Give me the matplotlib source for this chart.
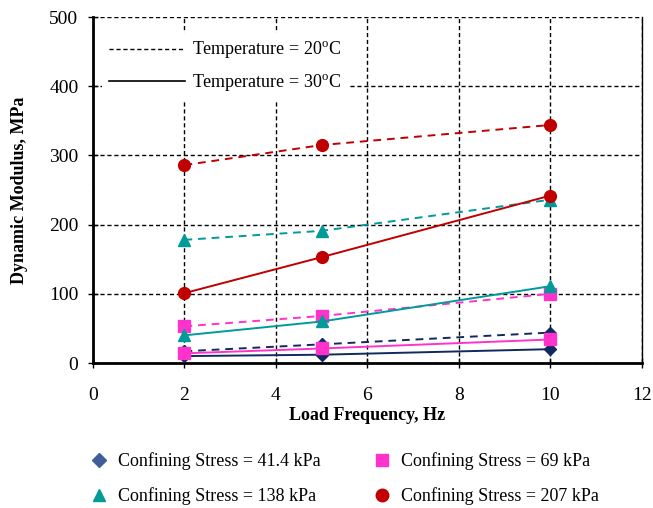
import matplotlib.pyplot as plt
from matplotlib.lines import Line2D

plt.rcParams["font.family"] = ["Liberation Serif", "DejaVu Serif"]
plt.rcParams["mathtext.fontset"] = "custom"
plt.rcParams["mathtext.rm"] = "Liberation Serif"

# load frequency (Hz)
freq = [2, 5, 10]

# dynamic modulus (MPa), 20 C (dashed) and 30 C (solid)
mod_41_20 = [17, 27, 44]
mod_41_30 = [10, 12, 20]
mod_69_20 = [53, 68, 100]
mod_69_30 = [14, 21, 34]
mod_138_20 = [178, 191, 236]
mod_138_30 = [40, 60, 111]
mod_207_20 = [286, 315, 344]
mod_207_30 = [101, 153, 242]

stress_labels = ["Confining Stress = 41.4 kPa", "Confining Stress = 69 kPa",
                 "Confining Stress = 138 kPa", "Confining Stress = 207 kPa"]

NAVY = "#10295e"
PINK = "#ff33cc"
TEAL = "#009a9a"
RED = "#c00000"

fig = plt.figure(figsize=(6.53, 5.08), dpi=100)
ax = fig.add_axes([0.1424, 0.2854, 0.8406, 0.6811])

series = [
    (mod_41_20, mod_41_30, NAVY, "D", 6.5),
    (mod_69_20, mod_69_30, PINK, "s", 9),
    (mod_138_20, mod_138_30, TEAL, "^", 8.5),
    (mod_207_20, mod_207_30, RED, "o", 8.5),
]
for m20, m30, c, mk, ms in series:
    ax.plot(freq, m20, color=c, lw=1.4, ls=(0, (4, 3)), marker=mk, ms=ms,
            mec=c, zorder=3)
    ax.plot(freq, m30, color=c, lw=1.4, ls="-", marker=mk, ms=ms,
            mec=c, zorder=3)

ax.set_xlim(0, 12)
ax.set_ylim(0, 500)
ax.set_xticks(range(0, 13, 2))
ax.set_yticks(range(0, 501, 100))
ax.grid(True, color="black", ls=(0, (3, 2)), lw=1.0)
ax.set_axisbelow(True)
ax.spines["top"].set_visible(False)
ax.spines["left"].set_linewidth(2.0)
ax.spines["bottom"].set_linewidth(2.0)
ax.spines["right"].set_linewidth(1.0)
ax.tick_params(direction="inout", length=7, width=1, labelsize=14, pad=7)
ax.tick_params(axis="x", pad=14)

ax.set_xlabel("Load Frequency, Hz", fontsize=13, fontweight="bold", labelpad=2)
ax.set_ylabel("Dynamic Modulus, MPa", fontsize=13, fontweight="bold", labelpad=15)

temp_handles = [
    Line2D([], [], color="black", lw=1.0, ls=(0, (3, 2))),
    Line2D([], [], color="black", lw=1.2, ls="-"),
]
ax.legend(temp_handles,
          ["Temperature = 20$^{\\mathrm{o}}$C",
           "Temperature = 30$^{\\mathrm{o}}$C"],
          loc="upper left", bbox_to_anchor=(0.0, 0.98),
          frameon=True, fancybox=False, edgecolor="none",
          facecolor="white", framealpha=1.0,
          fontsize=13, handlelength=4.2, handletextpad=0.4,
          labelspacing=0.6)

# column-wise fill: 41.4 & 138 left, 69 & 207 right
order = [0, 2, 1, 3]
marker_handles = [
    Line2D([], [], ls="none", marker="D", ms=7, color="#3e5f9a", mec="#3e5f9a"),
    Line2D([], [], ls="none", marker="s", ms=9, color=PINK),
    Line2D([], [], ls="none", marker="^", ms=9, color=TEAL),
    Line2D([], [], ls="none", marker="o", ms=9, color=RED),
]
fig.legend([marker_handles[i] for i in order], [stress_labels[i] for i in order],
           ncol=2, loc="lower left", bbox_to_anchor=(0.113, -0.026),
           frameon=False, fontsize=13, handlelength=1.0, handletextpad=0.55,
           columnspacing=2.9, labelspacing=0.95)

fig.savefig("out.png", dpi=100)
